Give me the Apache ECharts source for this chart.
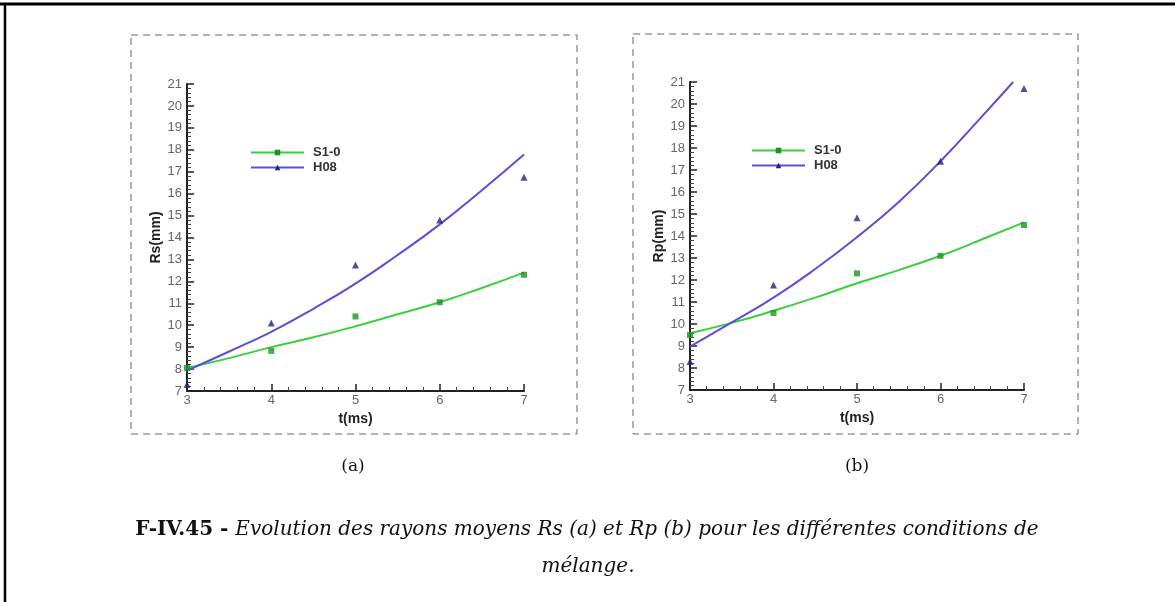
<!DOCTYPE html>
<html>
<head>
<meta charset="utf-8">
<script src="https://cdn.jsdelivr.net/npm/echarts@6/dist/echarts.min.js"></script>
<style>
html,body{margin:0;padding:0;background:#fff;}
#main{width:1175px;height:602px;}
</style>
</head>
<body>
<div id="main"></div>
<script>
/* mesures */
var tPts = [3, 4, 5, 6, 7];
var rsS10 = [8.05, 8.83, 10.4, 11.05, 12.3];
var rsH08 = [7.3, 10.1, 12.75, 14.8, 16.75];
var rpS10 = [9.5, 10.5, 12.3, 13.1, 14.5];
var rpH08 = [8.3, 11.77, 14.83, 17.4, 20.7];

/* courbes d'ajustement */
var tFit = [3, 3.5, 4, 4.5, 5, 5.5, 6, 6.5, 7];
var rsS10Fit = [8.05, 8.5, 9.0, 9.45, 9.95, 10.5, 11.05, 11.7, 12.4];
var rsH08Fit = [7.93, 8.8, 9.7, 10.75, 11.9, 13.2, 14.6, 16.15, 17.78];
var rpS10Fit = [9.58, 10.05, 10.6, 11.2, 11.85, 12.45, 13.1, 13.85, 14.62];
var tFitH08b = [3, 3.5, 4, 4.5, 5, 5.5, 6, 6.5, 6.87];
var rpH08Fit = [8.97, 10.07, 11.2, 12.5, 13.95, 15.55, 17.4, 19.45, 21.0];

var yTicks = [7, 21];
var xTicks = [3, 7];

var greenLine = '#3ccf3c', greenMark = '#1a9420';
var blueLine = '#5a4fd6', blueMark = '#23237f';

function pairs(xs, ys){
    var out = [];
    for (var i = 0; i < xs.length; i++) out.push([xs[i], ys[i]]);
    return out;
}

function xAx(g){
    return {
        type:'value', gridIndex:g, min:xTicks[0], max:xTicks[1], interval:1,
        name:'t(ms)', nameLocation:'middle', nameGap:17,
        nameTextStyle:{fontFamily:'Liberation Sans', fontWeight:'bold', fontSize:14, color:'#222'},
        axisLine:{lineStyle:{color:'#222', width:2}},
        axisTick:{inside:true, length:7, lineStyle:{color:'#222', width:1.5}},
        minorTick:{show:true, splitNumber:5, length:4, lineStyle:{color:'#444', width:1}},
        axisLabel:{margin:3, color:'#666', fontFamily:'Liberation Sans', fontSize:13},
        splitLine:{show:false}
    };
}
function yAx(g, name){
    return {
        type:'value', gridIndex:g, min:yTicks[0], max:yTicks[1], interval:1,
        name:name, nameLocation:'middle', nameGap:23, nameRotate:90,
        nameTextStyle:{fontFamily:'Liberation Sans', fontWeight:'bold', fontSize:14, color:'#222'},
        axisLine:{lineStyle:{color:'#222', width:2}},
        axisTick:{inside:true, length:7, lineStyle:{color:'#222', width:1.5}},
        minorTick:{show:true, splitNumber:5, length:4, lineStyle:{color:'#444', width:1}},
        axisLabel:{margin:5, color:'#666', fontFamily:'Liberation Sans', fontSize:13},
        splitLine:{show:false}
    };
}
function fitLine(name, g, xs, ys, lc, mc, sym){
    return {
        type:'line', name:name, xAxisIndex:g, yAxisIndex:g,
        data:pairs(xs, ys), smooth:true, symbol:sym, symbolSize:6, showSymbol:false,
        lineStyle:{color:lc, width:2}, itemStyle:{color:mc}, z:2
    };
}
function pts(name, g, ys, mc, sym, size){
    return {
        type:'scatter', name:name, xAxisIndex:g, yAxisIndex:g,
        data:pairs(tPts, ys), symbol:sym, symbolSize:size,
        itemStyle:{color:mc}, z:3
    };
}
function legend(left, top){
    return {
        data:['S1-0','H08'], orient:'vertical', left:left, top:top,
        itemWidth:53, itemHeight:7, itemGap:2, selectedMode:false,
        textStyle:{fontFamily:'Liberation Sans', fontWeight:'bold', fontSize:13, color:'#333', padding:[0,0,0,4]}
    };
}

var chart = echarts.init(document.getElementById('main'));
chart.setOption({
    animation:false,
    grid:[
        {left:187, right:651, top:84, bottom:211},
        {left:690, right:151, top:82, bottom:212}
    ],
    xAxis:[xAx(0), xAx(1)],
    yAxis:[yAx(0,'Rs(mm)'), yAx(1,'Rp(mm)')],
    legend:[legend(245,141), legend(746,139)],
    series:[
        fitLine('S1-0', 0, tFit, rsS10Fit, greenLine, greenMark, 'rect'),
        fitLine('H08', 0, tFit, rsH08Fit, blueLine, blueMark, 'triangle'),
        pts('S1-0 pts', 0, rsS10, greenMark, 'rect', 6),
        pts('H08 pts', 0, rsH08, blueMark, 'triangle', 7),
        fitLine('S1-0', 1, tFit, rpS10Fit, greenLine, greenMark, 'rect'),
        fitLine('H08', 1, tFitH08b, rpH08Fit, blueLine, blueMark, 'triangle'),
        pts('S1-0 pts', 1, rpS10, greenMark, 'rect', 6),
        pts('H08 pts', 1, rpH08, blueMark, 'triangle', 7)
    ],
    graphic:[
        /* cadre de page */
        {type:'line', shape:{x1:0, y1:4, x2:1175, y2:4}, style:{stroke:'#000', lineWidth:3}},
        {type:'line', shape:{x1:5, y1:3, x2:5, y2:602}, style:{stroke:'#000', lineWidth:2.5}},
        /* cadres pointilles */
        {type:'rect', shape:{x:131, y:35, width:446, height:399}, style:{fill:'none', stroke:'#666', lineWidth:1, lineDash:[7,5]}},
        {type:'rect', shape:{x:633, y:34, width:445, height:400}, style:{fill:'none', stroke:'#666', lineWidth:1, lineDash:[7,5]}},
        {type:'text', x:353, y:467, style:{text:'(a)', align:'center', verticalAlign:'middle', font:'17px "DejaVu Serif"', fill:'#111'}},
        {type:'text', x:857, y:467, style:{text:'(b)', align:'center', verticalAlign:'middle', font:'17px "DejaVu Serif"', fill:'#111'}},
        {type:'text', x:587, y:530, style:{
            text:'{b|F-IV.45 - }{i|Evolution des rayons moyens Rs (a) et Rp (b) pour les différentes conditions de}',
            align:'center', verticalAlign:'middle',
            rich:{
                b:{fontFamily:'DejaVu Serif', fontWeight:'bold', fontSize:20, fill:'#111'},
                i:{fontFamily:'DejaVu Serif', fontStyle:'italic', fontSize:20, fill:'#111'}
            }
        }},
        {type:'text', x:588, y:567, style:{text:'mélange.', align:'center', verticalAlign:'middle', font:'italic 20px "DejaVu Serif"', fill:'#111'}}
    ]
});
</script>
</body>
</html>
